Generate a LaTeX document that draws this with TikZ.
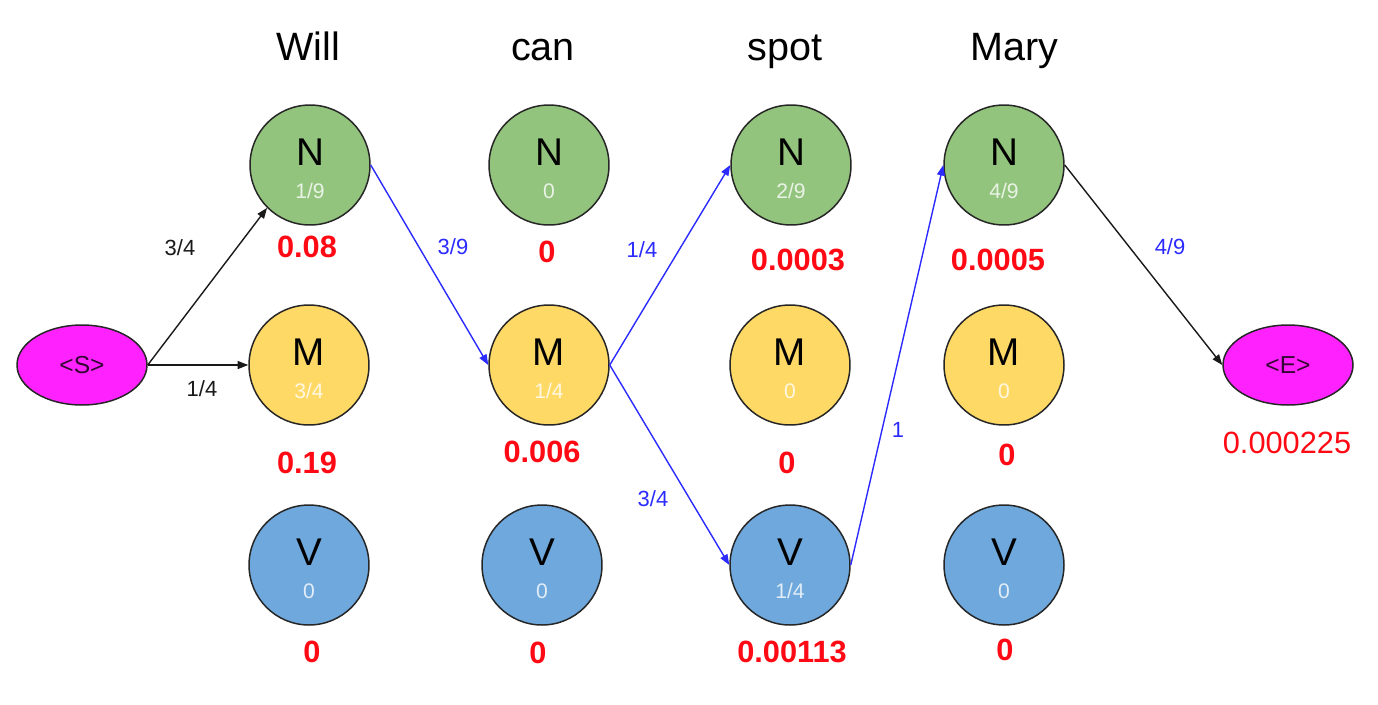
\documentclass[tikz,border=0pt]{standalone}
\usepackage{fontspec}
\setmainfont{Liberation Sans}
\usetikzlibrary{shapes.geometric,arrows.meta}

\definecolor{ngreen}{HTML}{93C47D}
\definecolor{myellow}{HTML}{FFD966}
\definecolor{vblue}{HTML}{6FA8DC}
\definecolor{termmag}{HTML}{FF22FF}
\definecolor{pathblue}{HTML}{2B2BFF}
\definecolor{scorered}{HTML}{FF0A14}

\tikzset{
  tag/.style={circle, draw=black!85, line width=0.85pt, minimum size=2.4cm, inner sep=0pt},
  ntag/.style={tag, fill=ngreen},
  mtag/.style={tag, fill=myellow},
  vtag/.style={tag, fill=vblue},
  letter/.style={anchor=base, inner sep=0pt, font=\fontsize{22}{22}\selectfont, text=black},
  emis/.style={anchor=base, inner sep=0pt, font=\fontsize{12}{12}\selectfont, text=white, text opacity=0.8},
  score/.style={anchor=base, inner sep=0pt, font=\fontsize{17.5}{18}\selectfont\bfseries, text=scorered},
  total/.style={anchor=base, inner sep=0pt, font=\fontsize{17.5}{18}\selectfont, text=scorered},
  word/.style={anchor=base, inner sep=0pt, font=\fontsize{22.5}{23}\selectfont},
  edge/.style={line width=0.8pt, -{Triangle[length=6pt,width=4.5pt]}},
  best/.style={edge, draw=pathblue},
  other/.style={edge, draw=black!90},
  elab/.style={anchor=base, inner sep=0pt, font=\fontsize{12.5}{13}\selectfont},
  blab/.style={elab, text=pathblue},
  klab/.style={elab, text=black!90},
  terminal/.style={ellipse, draw=black!85, line width=0.85pt, fill=termmag,
    minimum width=2.6cm, minimum height=1.6cm, inner sep=0pt,
    font=\fontsize{14}{14}\selectfont, text=black!80!termmag}
}

% #1 name, #2 x, #3 y, #4 style, #5 tag letter, #6 emission probability
\newcommand{\hmmstate}[6]{%
  \node[#4] (#1) at (#2,#3) {};
  \node[letter] (#1l) at (#2,#3) {#5};
  \node[emis] (#1e) at (#2,#3+33) {#6};
}

\begin{document}
\begin{tikzpicture}[x=0.02cm, y=-0.02cm]
  \useasboundingbox (0,0) rectangle (1378,704);

  % words
  \node[word] (w1) at (308,60) {Will};
  \node[word] (w2) at (543,60) {can};
  \node[word] (w3) at (785,60) {spot};
  \node[word] (w4) at (1014,60) {Mary};

  % states per word
  \hmmstate{n1}{310}{165}{ntag}{N}{1/9}
  \hmmstate{m1}{309}{365}{mtag}{M}{3/4}
  \hmmstate{v1}{309}{565}{vtag}{V}{0}

  \hmmstate{n2}{549}{165}{ntag}{N}{0}
  \hmmstate{m2}{549}{365}{mtag}{M}{1/4}
  \hmmstate{v2}{542}{565}{vtag}{V}{0}

  \hmmstate{n3}{791}{165}{ntag}{N}{2/9}
  \hmmstate{m3}{790}{365}{mtag}{M}{0}
  \hmmstate{v3}{790}{565}{vtag}{V}{1/4}

  \hmmstate{n4}{1004}{165}{ntag}{N}{4/9}
  \hmmstate{m4}{1004}{365}{mtag}{M}{0}
  \hmmstate{v4}{1004}{565}{vtag}{V}{0}

  % start and end
  \node[terminal] (s) at (82,365) {<S>};
  \node[terminal] (e) at (1288,365) {<E>};

  % path scores
  \node[score] (sn1) at (307,257) {0.08};
  \node[score] (sm1) at (307,473) {0.19};
  \node[score] (sv1) at (312,662) {0};
  \node[score] (sn2) at (547,262) {0};
  \node[score] (sm2) at (542,462) {0.006};
  \node[score] (sv2) at (538,663) {0};
  \node[score] (sn3) at (798,270) {0.0003};
  \node[score] (sm3) at (787,473) {0};
  \node[score] (sv3) at (792,662) {0.00113};
  \node[score] (sn4) at (998,270) {0.0005};
  \node[score] (sm4) at (1007,465) {0};
  \node[score] (sv4) at (1005,660) {0};
  \node[total] (se) at (1287,453) {0.000225};

  % transitions
  \draw[other] (s.east) -- (n1.south west);
  \draw[other] (s.east) -- (m1.west);
  \draw[best] (n1.east) -- (m2.west);
  \draw[best] (m2.east) -- (n3.west);
  \draw[best] (m2.east) -- (v3.west);
  \draw[best] (v3.east) -- (n4.west);
  \draw[other] (n4.east) -- (e.west);

  % transition probabilities
  \node[klab] (t1) at (180,255) {3/4};
  \node[klab] (t2) at (202,396) {1/4};
  \node[blab] (t3) at (453,254) {3/9};
  \node[blab] (t4) at (642,257) {1/4};
  \node[blab] (t5) at (653,506) {3/4};
  \node[blab] (t6) at (898,437) {1};
  \node[blab] (t7) at (1170,254) {4/9};
\end{tikzpicture}
\end{document}
